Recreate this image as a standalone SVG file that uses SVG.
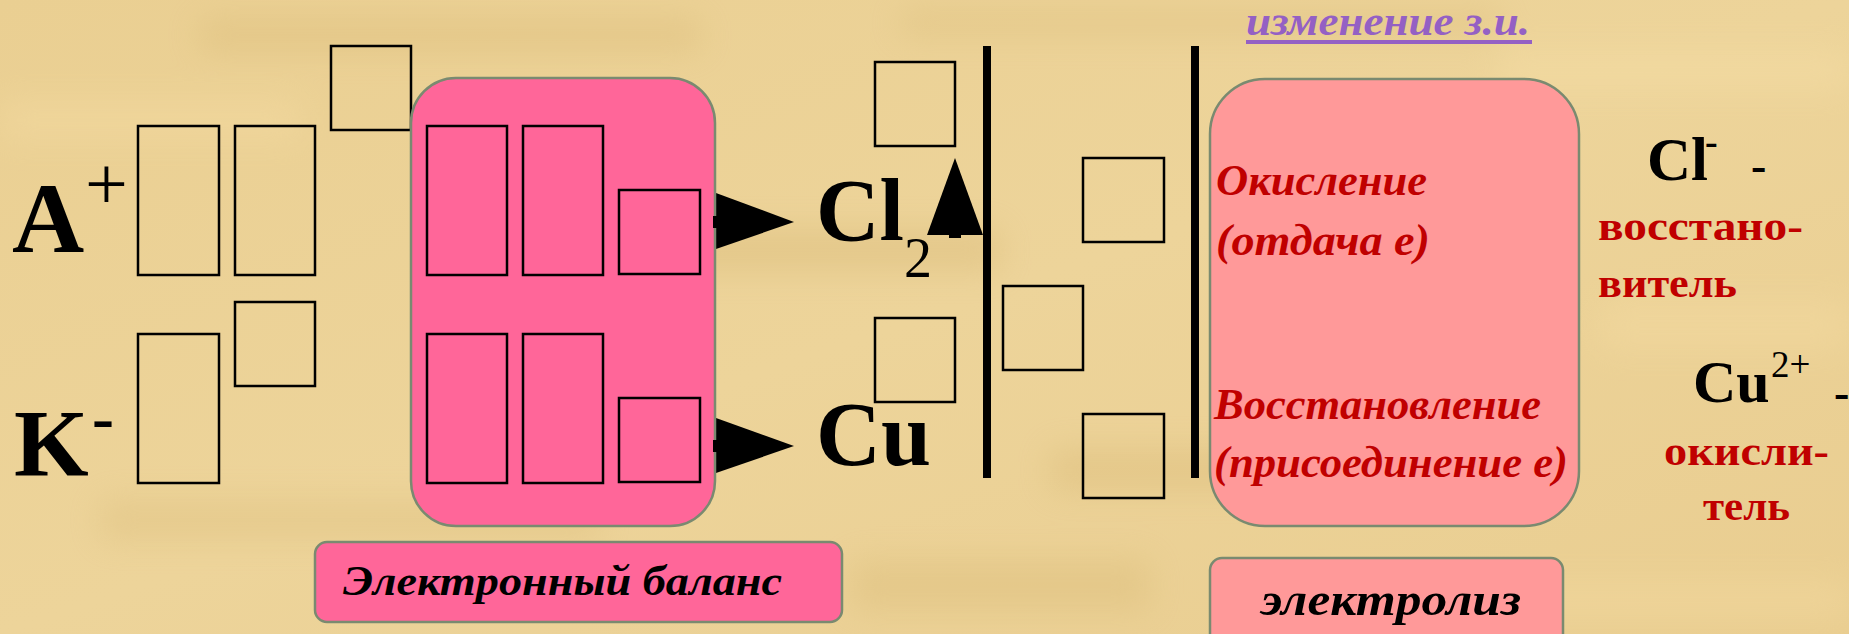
<svg xmlns="http://www.w3.org/2000/svg" width="1849" height="634" viewBox="0 0 1849 634">
<defs>
<filter id="blur" x="-20%" y="-50%" width="140%" height="200%"><feGaussianBlur stdDeviation="16"/></filter>
<linearGradient id="bg" x1="0" y1="0" x2="1" y2="1">
<stop offset="0" stop-color="#EACF92"/>
<stop offset="0.5" stop-color="#EDD49A"/>
<stop offset="1" stop-color="#E9CD90"/>
</linearGradient>
<style>
.box{fill:none;stroke:#000;stroke-width:2.5}
.pink{fill:#FF6699;stroke:#7A8A70;stroke-width:2.5}
.salmon{fill:#FF9999;stroke:#7A8A70;stroke-width:2.5}
.sym{font-family:"Liberation Serif",serif;font-weight:bold;fill:#000}
.reg{font-family:"Liberation Serif",serif;fill:#000}
.it{font-family:"Liberation Serif",serif;font-style:italic;font-weight:bold}
.red{fill:#C00000}
.lbl{font-family:"Liberation Serif",serif;font-weight:bold;fill:#C00000}
</style>
</defs>
<g id="background">
<rect width="1849" height="634" fill="url(#bg)"/>
<g filter="url(#blur)" opacity="0.4">
<rect x="200" y="20" width="500" height="30" fill="#D8B874"/>
<rect x="900" y="10" width="600" height="25" fill="#D9BA78"/>
<rect x="0" y="100" width="300" height="40" fill="#F6DDA4"/>
<rect x="500" y="230" width="500" height="40" fill="#D6B673"/>
<rect x="1050" y="450" width="400" height="40" fill="#D8B875"/>
<rect x="1500" y="50" width="349" height="40" fill="#F7E0A8"/>
<rect x="100" y="500" width="500" height="40" fill="#DCBD7C"/>
<rect x="1300" y="580" width="549" height="40" fill="#F5DCA2"/>
<rect x="850" y="560" width="300" height="50" fill="#DABB78"/>
<rect x="1600" y="300" width="249" height="50" fill="#F5DCA3"/>
</g>
</g>

<g id="node-A">
<text class="sym" x="12" y="252" font-size="100">A</text>
<text class="reg" x="85" y="209" font-size="76">+</text>
</g>
<g id="node-K">
<text class="sym" x="14" y="476" font-size="96">K</text>
<text class="sym" x="92" y="440" font-size="66">-</text>
</g>
<g id="boxes-left">
<rect class="box" x="331" y="46" width="80" height="84"/>
<rect class="box" x="138" y="126" width="81" height="149"/>
<rect class="box" x="235" y="126" width="80" height="149"/>
<rect class="box" x="235" y="302" width="80" height="84"/>
<rect class="box" x="138" y="334" width="81" height="149"/>
</g>

<g id="connectors">
<polygon points="716,193 794,222 716,249" fill="#000"/>
<polygon points="716,418 794,446 716,473" fill="#000"/>
<rect x="949" y="234" width="12" height="4" fill="#000"/>
<polygon points="927,235 955,158 983,235" fill="#000"/>
<line x1="987" y1="46" x2="987" y2="478" stroke="#000" stroke-width="8"/>
<line x1="1195" y1="46" x2="1195" y2="478" stroke="#000" stroke-width="8"/>
</g>

<g id="node-balance-box">
<rect class="pink" x="411" y="78" width="304" height="448" rx="45" ry="45"/>
<rect class="box" x="427" y="126" width="80" height="149"/>
<rect class="box" x="523" y="126" width="80" height="149"/>
<rect class="box" x="619" y="190" width="81" height="84"/>
<rect class="box" x="427" y="334" width="80" height="149"/>
<rect class="box" x="523" y="334" width="80" height="149"/>
<rect class="box" x="619" y="398" width="81" height="84"/>
</g>
<g id="arrow-stubs">
<rect x="713" y="216" width="5" height="12" fill="#000"/>
<rect x="713" y="440" width="5" height="12" fill="#000"/>
</g>

<g id="node-Cl2">
<text class="sym" x="816" y="240" font-size="88">Cl</text>
<text class="reg" x="904" y="277" font-size="56">2</text>
<rect class="box" x="875" y="62" width="80" height="84"/>
</g>
<g id="node-Cu">
<text class="sym" x="816" y="465" font-size="90">Cu</text>
<rect class="box" x="875" y="318" width="80" height="84"/>
</g>
<g id="boxes-middle">
<rect class="box" x="1083" y="158" width="81" height="84"/>
<rect class="box" x="1003" y="286" width="80" height="84"/>
<rect class="box" x="1083" y="414" width="81" height="84"/>
</g>

<g id="node-title">
<text class="it" x="1246" y="35" font-size="42" fill="#9460C4" textLength="284" lengthAdjust="spacingAndGlyphs">изменение з.и.</text>
<rect x="1246" y="40" width="286" height="4" fill="#9460C4"/>
</g>

<g id="node-electrolysis-box">
<rect class="salmon" x="1210" y="79" width="369" height="447" rx="55" ry="55"/>
<text class="it red" x="1216" y="195" font-size="44" textLength="211" lengthAdjust="spacingAndGlyphs">Окисление</text>
<text class="it red" x="1216" y="255" font-size="44" textLength="214" lengthAdjust="spacingAndGlyphs">(отдача е)</text>
<text class="it red" x="1214" y="419" font-size="44" textLength="327" lengthAdjust="spacingAndGlyphs">Восстановление</text>
<text class="it red" x="1214" y="477" font-size="44" textLength="354" lengthAdjust="spacingAndGlyphs">(присоединение е)</text>
</g>

<g id="node-electron-balance">
<rect class="pink" x="315" y="542" width="527" height="80" rx="12" ry="12"/>
<text class="it" x="343" y="595" font-size="42" fill="#000" textLength="439" lengthAdjust="spacingAndGlyphs">Электронный баланс</text>
</g>
<g id="node-electrolysis">
<rect class="salmon" x="1210" y="558" width="353" height="100" rx="12" ry="12"/>
<text class="it" x="1261" y="615" font-size="46" fill="#000" textLength="260" lengthAdjust="spacingAndGlyphs">электролиз</text>
</g>

<g id="node-Cl-minus">
<text class="sym" x="1647" y="180" font-size="61">Cl</text>
<text class="sym" x="1705" y="154" font-size="38">-</text>
<text class="sym" x="1751" y="181" font-size="46">-</text>
<text class="lbl" x="1598" y="240" font-size="40" textLength="205" lengthAdjust="spacingAndGlyphs">восстано-</text>
<text class="lbl" x="1598" y="297" font-size="40" textLength="139" lengthAdjust="spacingAndGlyphs">витель</text>
</g>
<g id="node-Cu2plus">
<text class="sym" x="1693" y="402" font-size="60">Cu</text>
<text class="reg" x="1771" y="377" font-size="37">2+</text>
<text class="sym" x="1834" y="408" font-size="46">-</text>
<text class="lbl" x="1664" y="465" font-size="40" textLength="165" lengthAdjust="spacingAndGlyphs">окисли-</text>
<text class="lbl" x="1703" y="520" font-size="40" textLength="87" lengthAdjust="spacingAndGlyphs">тель</text>
</g>
</svg>
